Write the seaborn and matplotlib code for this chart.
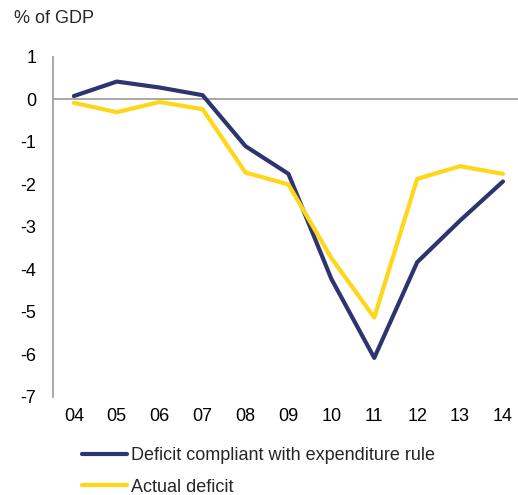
import pandas as pd
import matplotlib
matplotlib.use("Agg")
import matplotlib.pyplot as plt
import seaborn as sns

years = ["04", "05", "06", "07", "08", "09", "10", "11", "12", "13", "14"]
compliant = [0.08, 0.42, 0.28, 0.10, -1.10, -1.75, -4.22, -6.08, -3.83, -2.85, -1.93]
actual = [-0.08, -0.30, -0.06, -0.23, -1.72, -2.00, -3.73, -5.13, -1.87, -1.57, -1.75]
series_names = ["Deficit compliant with expenditure rule", "Actual deficit"]
colors = ["#2E3470", "#FFD618"]

# long format for seaborn
df = pd.DataFrame({
    "pos": list(range(len(years))) * 2,
    "value": compliant + actual,
    "series": [series_names[0]] * len(years) + [series_names[1]] * len(years),
})

sns.set_style("white")
plt.rcParams["font.family"] = ["Liberation Sans", "DejaVu Sans"]
plt.rcParams["axes.unicode_minus"] = False

fig = plt.figure(figsize=(5.18, 4.95), dpi=100)
ax = fig.add_axes([0.102, 0.198, 0.898, 0.687])

sns.lineplot(data=df, x="pos", y="value", hue="series", palette=colors,
             hue_order=series_names, linewidth=3, ax=ax, legend=False)

ax.axhline(0, color="#999999", linewidth=1.2, zorder=0)
ax.set_xlim(-0.49, 10.35)
ax.set_ylim(-7, 1)
ax.set_xticks(range(len(years)))
ax.set_xticklabels(years)
ax.set_yticks(range(-7, 2))
ax.tick_params(axis="both", length=0, labelsize=13, colors="black")
ax.tick_params(axis="y", pad=12)
ax.tick_params(axis="x", pad=8)
ax.set_xlabel("")
ax.set_ylabel("")
for side in ["top", "right", "bottom"]:
    ax.spines[side].set_visible(False)
ax.spines["left"].set_color("#999999")
ax.spines["left"].set_linewidth(1.2)

fig.text(0.027, 0.962, "% of GDP", fontsize=13, va="center", ha="left")

handles = [plt.Line2D([], [], color=c, linewidth=3) for c in colors]
fig.legend(handles, series_names, loc="center left", bbox_to_anchor=(0.158, 0.048),
           frameon=False, fontsize=13, handlelength=2.5, handletextpad=0.2,
           labelspacing=0.82, borderaxespad=0, borderpad=0)

fig.savefig("out.png", dpi=100)
